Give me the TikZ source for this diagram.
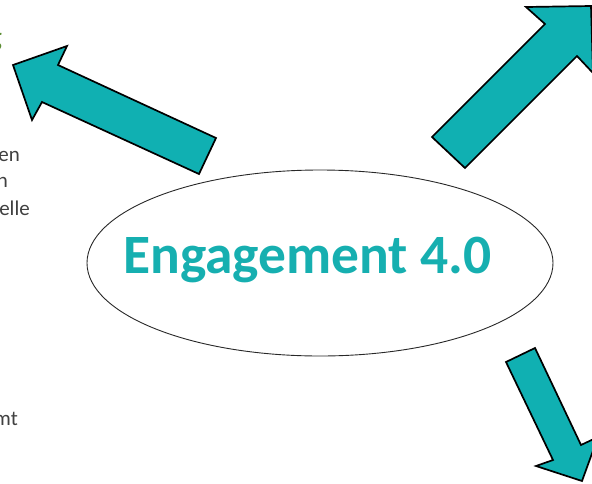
\documentclass[tikz,border=0pt]{standalone}
\usepackage{fontspec}
\setmainfont{Carlito}
\usetikzlibrary{shapes.geometric}
\definecolor{arrowteal}{RGB}{16,176,178}
\definecolor{txtteal}{RGB}{22,175,176}
\definecolor{headgreen}{RGB}{90,140,50}
\definecolor{txtgray}{RGB}{64,64,64}
\definecolor{ellline}{RGB}{40,40,40}
\begin{document}
\begin{tikzpicture}[x=1pt,y=-1pt,
  bigarrow/.style={fill=arrowteal, draw=black, line width=1.7pt, line join=miter},
  sidetext/.style={anchor=base east, inner sep=0pt, font=\fontsize{21}{25}\selectfont, text=txtgray}]
\useasboundingbox (0,0) rectangle (592,483);
\clip (0,0) rectangle (592,483);
% central ellipse
\node[ellipse, draw=ellline, line width=0.9pt, minimum width=466pt, minimum height=186pt, inner sep=0pt] (ell) at (320,263) {};
\node[anchor=base, inner sep=0pt, text=txtteal, font=\fontsize{55.5}{60}\selectfont\bfseries] (title) at (307.5,273) {Engagement 4.0};
% arrows
\draw[bigarrow] (13,65) -- (67,46) -- (58,65) -- (216,138) -- (199,174) -- (42,102) -- (32,120) -- cycle;
\draw[bigarrow] (432,137) -- (545,24) -- (526,7) -- (591,6) -- (593,73) -- (577,56) -- (465,168) -- cycle;
\draw[bigarrow] (506,362) -- (535,348) -- (581,445) -- (598,437) -- (582,481) -- (536,466) -- (553,460) -- cycle;
% clipped side texts
\node[anchor=base east, inner sep=0pt, text=headgreen, font=\fontsize{28}{32}\selectfont\bfseries] (t0) at (2,46) {g};
\node[sidetext] (t1) at (20,161) {en};
\node[sidetext] (t2) at (8,187) {n};
\node[sidetext] (t3) at (30,215) {elle};
\node[sidetext] (t4) at (18,425) {mt};
\end{tikzpicture}
\end{document}
